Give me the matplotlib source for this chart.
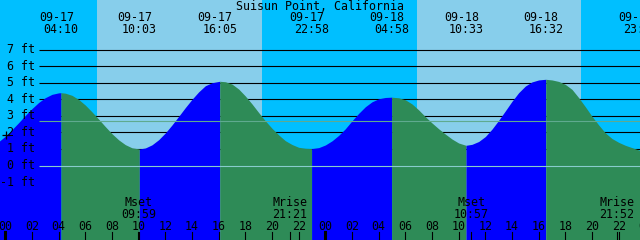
import numpy as np
import matplotlib.pyplot as plt
import matplotlib.transforms as mtransforms

# hours since 09-17 00:00, tide height in ft
tide_hours = [-1.93, -1, -0.5, 0, 0.5, 1, 1.5, 2, 2.5, 3, 3.5, 4, 4.17,
              4.5, 5, 5.5, 6, 6.5, 7, 7.5, 8, 8.5, 9, 9.5, 10.05,
              10.5, 11, 11.5, 12, 12.5, 13, 13.5, 14, 14.5, 15, 15.5, 16.08,
              16.5, 17, 17.5, 18, 18.5, 19, 19.5, 20, 20.5, 21, 21.5, 22, 22.5, 22.97,
              23.5, 24, 24.5, 25, 25.5, 26, 26.5, 27, 27.5, 28, 28.5, 28.97,
              29.5, 30, 30.5, 31, 31.5, 32, 32.5, 33, 33.5, 34, 34.55,
              35, 35.5, 36, 36.5, 37, 37.5, 38, 38.5, 39, 39.5, 40, 40.53,
              41, 41.5, 42, 42.5, 43, 43.5, 44, 44.5, 45, 45.5, 46, 46.5, 47, 47.5, 47.65]
tide_ft = [1.00, 1.19, 1.44, 1.77, 2.17, 2.59, 3.03, 3.44, 3.81, 4.10, 4.30, 4.39, 4.40,
           4.37, 4.24, 3.99, 3.65, 3.24, 2.80, 2.35, 1.92, 1.55, 1.26, 1.07, 1.00,
           1.06, 1.25, 1.56, 1.97, 2.45, 2.97, 3.50, 4.00, 4.45, 4.82, 5.00, 5.09,
           5.06, 4.92, 4.62, 4.20, 3.72, 3.20, 2.70, 2.25, 1.85, 1.50, 1.27, 1.10, 1.04, 1.02,
           1.08, 1.24, 1.49, 1.82, 2.22, 2.70, 3.15, 3.55, 3.85, 4.03, 4.11, 4.13,
           4.09, 3.97, 3.72, 3.36, 2.95, 2.57, 2.22, 1.90, 1.60, 1.36, 1.22,
           1.28, 1.45, 1.75, 2.20, 2.73, 3.30, 3.88, 4.40, 4.80, 5.05, 5.17, 5.21,
           5.17, 5.08, 4.90, 4.60, 4.10, 3.55, 2.97, 2.45, 1.97, 1.63, 1.40, 1.22, 1.08, 0.94, 0.90]

# high / low tides
prev_low = -1.93
ext_hours = [4.17, 10.05, 16.08, 22.97, 28.97, 34.55, 40.53, 47.65]
ext_dates = ['09-17', '09-17', '09-17', '09-17', '09-18', '09-18', '09-18', '09-18']
ext_times = ['04:10', '10:03', '16:05', '22:58', '04:58', '10:33', '16:32', '23:39']

# sun and moon
sunrise = [6.85, 30.85]
sunset = [19.22, 43.18]
moon_hours = [9.98, 21.35, 34.95, 45.87]
moon_names = ['Mset', 'Mrise', 'Mset', 'Mrise']
moon_times = ['09:59', '21:21', '10:57', '21:52']

ft_levels = [7, 6, 5, 4, 3, 2, 1, 0, -1]
mean_level = 2.69
now_hour = 0.05
now_ft = 1.85

hours = np.array(tide_hours)
ft = np.array(tide_ft)

plt.rcParams['font.family'] = 'DejaVu Sans Mono'
fs = 8.4

fig = plt.figure(figsize=(6.4, 2.4), dpi=100)
ax = fig.add_axes([0, 0, 1, 1])
ax.set_xlim(-0.4, 47.6)
ax.set_ylim(-4.5, 10)
ax.axis('off')
trans = mtransforms.blended_transform_factory(ax.transData, ax.transAxes)

# sky: night / day
ax.axvspan(-1, 48, color='#00bfff', zorder=0, lw=0)
for r, s in zip(sunrise, sunset):
    ax.axvspan(r, s, color='#87ceeb', zorder=0.5, lw=0)

# grid lines behind the water
ax.hlines([l for l in ft_levels if l > 0], 2.52, 48, color='black', lw=0.8, zorder=1)

# water: blue rising, green falling
bounds = [prev_low] + ext_hours
for i in range(len(bounds) - 1):
    m = (hours >= bounds[i]) & (hours <= bounds[i + 1])
    rising = ft[m][-1] > ft[m][0]
    ax.fill_between(hours[m], ft[m], -4.5, color='#0000ff' if rising else '#2e8b57',
                    lw=0, zorder=2)

ax.hlines(0, 2.52, 48, color='#88cccc', lw=0.8, zorder=3)
ax.hlines(mean_level, 2.52, 48, color='#5faa8f', lw=0.8, zorder=3)
ax.plot(now_hour, now_ft, marker='+', color='black', ms=6, mew=0.9, zorder=4)

for l in ft_levels:
    ax.text(2.225, l, f'{l} ft', ha='right', va='center', fontsize=fs, zorder=5)

ax.text(0.5, 1 - 6 / 240, 'Suisun Point, California', transform=ax.transAxes,
        ha='center', va='center', fontsize=fs, zorder=5)
for h, d, t in zip(ext_hours, ext_dates, ext_times):
    ax.text(h - 0.34, 1 - 17.5 / 240, d, transform=trans, ha='center', va='center', fontsize=fs, zorder=5)
    ax.text(h, 1 - 29.5 / 240, t, transform=trans, ha='center', va='center', fontsize=fs, zorder=5)

# bottom hour axis
for h in range(0, 49, 2):
    ax.text(h, 1 - 226 / 240, f'{h % 24:02d}', transform=trans, ha='center', va='center',
            fontsize=fs, zorder=5)
    ax.plot([h, h], [0, 8 / 240], transform=trans, color='black',
            lw=2.2 if h % 24 == 0 else 0.8, zorder=5)

for h, n, t in zip(moon_hours, moon_names, moon_times):
    ax.text(h, 1 - 206 / 240, n, transform=trans, ha='center', va='baseline', fontsize=fs, zorder=5)
    ax.text(h, 1 - 217.5 / 240, t, transform=trans, ha='center', va='baseline', fontsize=fs, zorder=5)
    ax.plot([h, h], [0, 8 / 240], transform=trans, color='black', lw=0.8, zorder=5)

plt.savefig('out.png', dpi=100)
